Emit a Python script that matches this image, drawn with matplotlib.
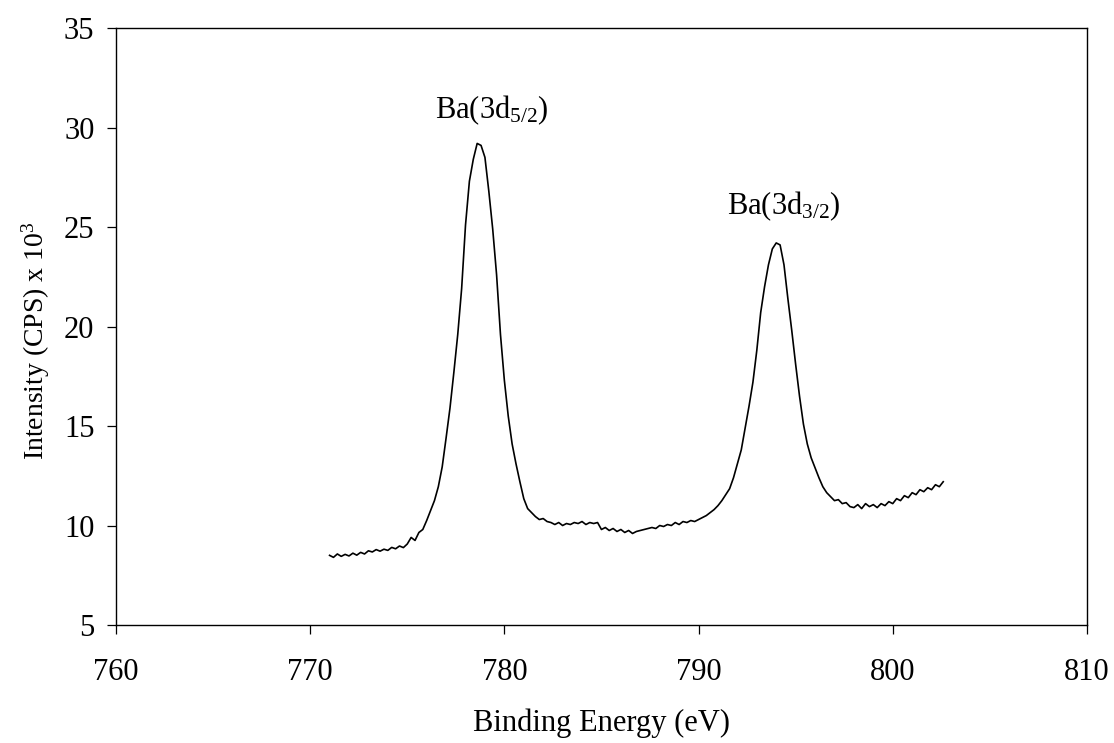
import numpy as np
import matplotlib
matplotlib.use("Agg")
import matplotlib.pyplot as plt

plt.rcParams["font.family"] = ["Liberation Serif", "DejaVu Serif"]
plt.rcParams["mathtext.fontset"] = "custom"
plt.rcParams["mathtext.rm"] = "Liberation Serif"
plt.rcParams["mathtext.it"] = "Liberation Serif:italic"

# binding energy grid (eV), 0.2 eV steps from 771.0 to 802.6
energy_start = 771.0
energy_step = 0.2

# intensity (CPS x 10^3)
intensity = [
    8.50, 8.40, 8.57, 8.45, 8.55, 8.47, 8.61, 8.51, 8.65, 8.57,   # 771.0 - 772.8
    8.73, 8.67, 8.79, 8.71, 8.81, 8.75, 8.90, 8.83, 8.97, 8.89,   # 773.0 - 774.8
    9.07, 9.40, 9.25, 9.65, 9.80, 10.25, 10.75, 11.25, 11.95, 12.95,  # 775.0 - 776.8
    14.4, 15.9, 17.7, 19.6, 21.9, 25.1, 27.3, 28.4, 29.2, 29.1,   # 777.0 - 778.8
    28.5, 26.8, 24.9, 22.6, 19.6, 17.3, 15.5, 14.1, 13.1, 12.2,   # 779.0 - 780.8
    11.35, 10.85, 10.65, 10.45, 10.3, 10.35, 10.2, 10.15, 10.05, 10.15,  # 781.0 - 782.8
    10.0, 10.1, 10.05, 10.15, 10.1, 10.2, 10.05, 10.15, 10.1, 10.15,  # 783.0 - 784.8
    9.8, 9.9, 9.75, 9.85, 9.7, 9.8, 9.65, 9.75, 9.6, 9.7,         # 785.0 - 786.8
    9.75, 9.8, 9.85, 9.9, 9.85, 10.0, 9.95, 10.05, 10.0, 10.15,   # 787.0 - 788.8
    10.05, 10.2, 10.15, 10.25, 10.2, 10.3, 10.4, 10.5, 10.65, 10.8,  # 789.0 - 790.8
    11.0, 11.25, 11.55, 11.85, 12.4, 13.1, 13.8, 14.9, 16.0, 17.2,  # 791.0 - 792.8
    18.8, 20.7, 22.0, 23.1, 23.9, 24.2, 24.1, 23.1, 21.4, 19.8,   # 793.0 - 794.8
    18.1, 16.5, 15.1, 14.1, 13.4, 12.9, 12.4, 11.95, 11.65, 11.45,  # 795.0 - 796.8
    11.25, 11.3, 11.1, 11.15, 10.95, 10.9, 11.05, 10.85, 11.1, 10.95,  # 797.0 - 798.8
    11.05, 10.9, 11.1, 11.0, 11.2, 11.1, 11.35, 11.25, 11.5, 11.4,  # 799.0 - 800.8
    11.65, 11.55, 11.8, 11.7, 11.9, 11.8, 12.05, 11.95, 12.2,     # 801.0 - 802.6
]
energy = energy_start + energy_step * np.arange(len(intensity))

x_ticks = [760, 770, 780, 790, 800, 810]
y_ticks = [5, 10, 15, 20, 25, 30, 35]

fs = 22

fig = plt.figure(figsize=(11.14, 7.43), dpi=100)
ax = fig.add_axes([0.1041, 0.1588, 0.8716, 0.8035])

ax.plot(energy, intensity, color="black", linewidth=1.2)

ax.set_xlim(760, 810)
ax.set_ylim(5, 35)
ax.set_xticks(x_ticks)
ax.set_yticks(y_ticks)
ax.tick_params(direction="out", length=6.5, width=0.9, labelsize=fs,
               top=False, right=False)
ax.tick_params(axis="x", pad=17)
ax.tick_params(axis="y", pad=9)
for sp in ax.spines.values():
    sp.set_linewidth(1.0)

ax.set_xlabel("Binding Energy (eV)", fontsize=fs, labelpad=16)
ax.set_ylabel(r"Intensity (CPS) x 10$^{3}$", fontsize=20)
ax.yaxis.set_label_coords(-0.066, 0.476)

ax.text(779.36, 30.49, r"Ba(3d$_{\mathrm{5/2}}$)", fontsize=fs, ha="center", va="baseline")
ax.text(794.4, 25.62, r"Ba(3d$_{\mathrm{3/2}}$)", fontsize=fs, ha="center", va="baseline")

fig.savefig("out.png", dpi=100)
